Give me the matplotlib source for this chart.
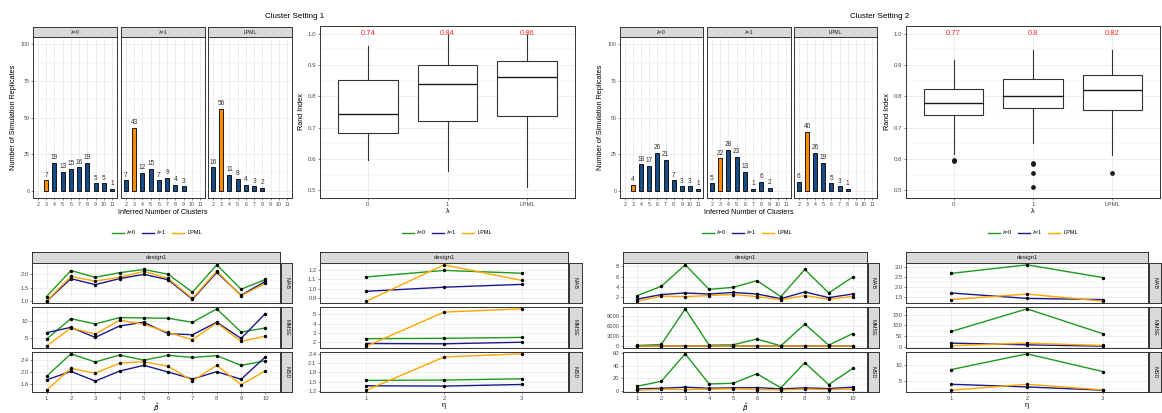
import numpy as np
import matplotlib
matplotlib.use('Agg')
import matplotlib.pyplot as plt
from matplotlib.lines import Line2D

plt.rcParams['font.family'] = ['Liberation Sans', 'DejaVu Sans']
plt.rcParams['mathtext.fontset'] = 'dejavusans'

W, H = 1162, 413

# ---------------- data ----------------
clusters = [2, 3, 4, 5, 6, 7, 8, 9, 10, 11]
true_k = 3
facets = ['λ=0', 'λ=1', 'LPML']

# counts per inferred number of clusters (0 = no bar)
s1_lam0 = [0, 7, 19, 13, 15, 16, 19, 5, 5, 1]
s1_lam1 = [7, 43, 12, 15, 7, 9, 4, 3, 0, 0]
s1_lpml = [16, 56, 11, 8, 4, 3, 2, 0, 0, 0]
s2_lam0 = [0, 4, 18, 17, 26, 21, 7, 3, 3, 1]
s2_lam1 = [5, 22, 28, 23, 13, 1, 6, 2, 0, 0]
s2_lpml = [6, 40, 26, 19, 5, 3, 1, 0, 0, 0]

# rand index box stats: (whislo, q1, med, q3, whishi)
box_labels = ['0', '1', 'LPML']
s1_box = [(0.598, 0.682, 0.743, 0.851, 0.960),
          (0.562, 0.722, 0.840, 0.901, 1.000),
          (0.509, 0.736, 0.862, 0.913, 1.000)]
s1_fliers = [[], [], []]
s1_means = ['0.74', '0.84', '0.86']
s2_box = [(0.617, 0.741, 0.778, 0.823, 0.915),
          (0.651, 0.763, 0.801, 0.855, 0.949),
          (0.613, 0.755, 0.820, 0.868, 0.949)]
s2_fliers = [[0.595, 0.592], [0.588, 0.584, 0.554, 0.509], [0.554]]
s2_means = ['0.77', '0.8', '0.82']

metrics = ['MAB', 'MMSE', 'MSD']
beta_idx = [1, 2, 3, 4, 5, 6, 7, 8, 9, 10]
eta_idx = [1, 2, 3]

# setting 1, beta
s1b_mab_l0 = [1.17, 2.13, 1.88, 2.05, 2.17, 1.99, 1.33, 2.34, 1.44, 1.80]
s1b_mab_l1 = [1.00, 1.83, 1.61, 1.83, 1.99, 1.79, 1.07, 2.06, 1.22, 1.73]
s1b_mab_lp = [1.01, 1.91, 1.74, 1.88, 2.10, 1.84, 1.10, 2.11, 1.20, 1.66]
s1b_mmse_l0 = [4.7, 10.8, 9.2, 11.1, 11.0, 10.9, 9.7, 13.7, 6.8, 8.0]
s1b_mmse_l1 = [6.6, 8.2, 5.2, 8.6, 9.7, 6.3, 6.0, 9.7, 4.9, 12.3]
s1b_mmse_lp = [2.6, 8.0, 6.2, 10.3, 9.1, 6.7, 4.5, 9.5, 4.0, 5.6]
s1b_msd_l0 = [1.87, 2.61, 2.34, 2.57, 2.40, 2.56, 2.49, 2.55, 2.23, 2.38]
s1b_msd_l1 = [1.75, 2.03, 1.71, 2.04, 2.23, 2.01, 1.78, 2.02, 1.77, 2.51]
s1b_msd_lp = [1.41, 2.13, 1.97, 2.30, 2.35, 2.20, 1.72, 2.23, 1.59, 2.05]

# setting 1, eta
s1e_mab_l0 = [1.127, 1.197, 1.167]
s1e_mab_l1 = [0.973, 1.017, 1.047]
s1e_mab_lp = [0.867, 1.257, 1.090]
s1e_mmse_l0 = [2.38, 2.42, 2.52]
s1e_mmse_l1 = [1.86, 1.83, 2.00]
s1e_mmse_lp = [1.58, 5.24, 5.59]
s1e_msd_l0 = [1.55, 1.56, 1.60]
s1e_msd_l1 = [1.38, 1.37, 1.42]
s1e_msd_lp = [1.24, 2.29, 2.39]

# setting 2, beta
s2b_mab_l0 = [2.3, 4.1, 8.3, 3.5, 3.9, 5.2, 2.1, 7.4, 2.8, 5.9]
s2b_mab_l1 = [1.6, 2.5, 2.8, 2.6, 2.9, 2.6, 1.7, 3.0, 1.9, 2.6]
s2b_mab_lp = [1.2, 2.2, 2.1, 2.3, 2.5, 2.1, 1.5, 2.3, 1.6, 2.1]
s2b_mmse_l0 = [200, 500, 11000, 300, 400, 2100, 100, 6500, 300, 3700]
s2b_mmse_l1 = [30, 60, 80, 60, 80, 60, 20, 80, 40, 60]
s2b_mmse_lp = [10, 40, 40, 40, 50, 40, 15, 50, 20, 40]
s2b_msd_l0 = [8.1, 15.7, 58.0, 11.6, 12.6, 27.3, 5.6, 44.4, 10.6, 35.4]
s2b_msd_l1 = [4.0, 5.0, 6.6, 5.0, 5.6, 6.0, 4.0, 5.6, 4.5, 6.6]
s2b_msd_lp = [2.0, 3.5, 3.0, 3.5, 4.0, 3.0, 2.5, 3.5, 3.0, 3.5]

# setting 2, eta
s2e_mab_l0 = [2.68, 3.11, 2.47]
s2e_mab_l1 = [1.69, 1.42, 1.36]
s2e_mab_lp = [1.36, 1.64, 1.28]
s2e_mmse_l0 = [72, 177, 62]
s2e_mmse_l1 = [18, 10, 4]
s2e_mmse_lp = [6, 18, 7]
s2e_msd_l0 = [8.5, 13.3, 7.9]
s2e_msd_l1 = [4.0, 3.2, 2.2]
s2e_msd_lp = [2.2, 4.0, 2.3]

line_colors = ['#1E9A1E', '#1A1A8C', '#FFA500']
bar_blue = '#174B85'
bar_orange = '#FF8C00'
grid_c = '#EBEBEB'
border_c = '#333333'
tick_c = '#4D4D4D'

fig = plt.figure(figsize=(W / 100, H / 100), dpi=100)


def px_axes(x0, y0, x1, y1):
    return fig.add_axes([x0 / W, 1 - y1 / H, (x1 - x0) / W, (y1 - y0) / H])


def style(ax, size):
    for s in ax.spines.values():
        s.set_color(border_c)
        s.set_linewidth(0.7)
    ax.set_axisbelow(True)
    ax.tick_params(length=1.6, width=0.4, color=border_c, labelsize=size,
                   labelcolor=tick_c, pad=1)
    ax.tick_params(which='minor', length=0)


def strip(x0, y0, x1, y1, text, rot=0, size=4):
    ax = px_axes(x0, y0, x1, y1)
    ax.set_facecolor('#D9D9D9')
    ax.set_xticks([])
    ax.set_yticks([])
    for s in ax.spines.values():
        s.set_color(border_c)
        s.set_linewidth(0.7)
    ax.text(0.5, 0.5, text, rotation=rot, fontsize=size, color='#1A1A1A',
            ha='center', va='center', transform=ax.transAxes)


def bar_facets(xs, counts_list, ylab_x):
    pos = np.arange(len(clusters))
    for i, (x0, x1) in enumerate(xs):
        strip(x0, 27, x1, 37, facets[i], size=3.8)
        ax = px_axes(x0, 37, x1, 198)
        style(ax, 3.8)
        counts = counts_list[i]
        keep = [j for j, c in enumerate(counts) if c > 0]
        cols = [bar_orange if clusters[j] == true_k else bar_blue for j in keep]
        ax.bar(pos[keep], [counts[j] for j in keep], width=0.5, color=cols,
               edgecolor='black', linewidth=0.6)
        for j in keep:
            ax.text(pos[j], counts[j] + 1.2, str(counts[j]), ha='center',
                    va='bottom', fontsize=4.7, color='#333333')
        ax.set_xlim(-0.6, len(clusters) - 0.4)
        ax.set_ylim(-5, 105)
        ax.set_xticks(pos)
        ax.set_xticklabels([str(c) for c in clusters])
        ax.set_yticks([0, 25, 50, 75, 100])
        ax.set_yticks([12.5, 37.5, 62.5, 87.5], minor=True)
        ax.grid(True, which='major', color=grid_c, lw=0.6)
        ax.grid(True, which='minor', axis='y', color=grid_c, lw=0.3)
        if i > 0:
            ax.tick_params(axis='y', length=0, labelleft=False)
    mid = (xs[0][0] + xs[-1][1]) / 2
    fig.text(mid / W, 1 - 212 / H, 'Inferred Number of Clusters',
             ha='center', va='center', fontsize=5.2)
    fig.text(ylab_x / W, 1 - 117 / H, 'Number of Simulation Replicates',
             ha='center', va='center', rotation=90, fontsize=5.2)


def box_panel(x0, x1, stats, fliers, means):
    ax = px_axes(x0, 26, x1, 198)
    style(ax, 4.4)
    bx = []
    for (lo, q1, med, q3, hi), fl in zip(stats, fliers):
        bx.append(dict(whislo=lo, q1=q1, med=med, q3=q3, whishi=hi, fliers=fl))
    ax.bxp(bx, positions=[1, 2, 3], widths=0.75, showcaps=False,
           patch_artist=True,
           boxprops=dict(facecolor='white', edgecolor='#333333', linewidth=0.8),
           whiskerprops=dict(color='#333333', linewidth=0.8),
           medianprops=dict(color='#1A1A1A', linewidth=1.0),
           flierprops=dict(marker='o', markerfacecolor='#1A1A1A',
                           markeredgecolor='#1A1A1A', markersize=2.4))
    for k, m in enumerate(means):
        ax.text(k + 1, 1.0, m, color='#FF2A2A', fontsize=5.5, ha='center',
                va='center')
    ax.set_xlim(0.4, 3.6)
    ax.set_ylim(0.475, 1.025)
    ax.set_yticks([0.5, 0.6, 0.7, 0.8, 0.9, 1.0])
    ax.set_yticks([0.55, 0.65, 0.75, 0.85, 0.95], minor=True)
    ax.set_xticks([1, 2, 3])
    ax.set_xticklabels(box_labels)
    ax.grid(True, which='major', color=grid_c, lw=0.6)
    ax.grid(True, which='minor', axis='y', color=grid_c, lw=0.3)
    ax.set_ylabel('Rand Index', fontsize=5.2, labelpad=2)
    ax.set_xlabel('λ', fontsize=5.2, labelpad=1)


def line_panel(x0, x1, sx0, sx1, xvals, rows, ticks, fmts, xlab, leg_x):
    ys = [(263, 303), (307, 348), (352, 392)]
    strip(x0, 252, x1, 263, 'design1', size=4.4)
    for r, (series, tk, fmt) in enumerate(zip(rows, ticks, fmts)):
        y0, y1 = ys[r]
        ax = px_axes(x0, y0, x1, y1)
        style(ax, 4.2)
        for vals, c in zip(series, line_colors):
            ax.plot(xvals, vals, color=c, lw=1.0, zorder=2)
        for vals in series:
            ax.scatter(xvals, vals, s=6, color='black', zorder=3, lw=0)
        allv = np.concatenate([np.asarray(v, float) for v in series])
        lo, hi = allv.min(), allv.max()
        pad = 0.05 * (hi - lo)
        ax.set_xlim(0.4, len(xvals) + 0.6)
        ax.set_yticks(tk)
        ax.set_yticklabels([fmt.format(t) for t in tk])
        step = tk[1] - tk[0]
        minor = [t - step / 2 for t in tk] + [tk[-1] + step / 2]
        ax.set_yticks(minor, minor=True)
        ax.set_ylim(lo - pad, hi + pad)
        ax.set_xticks(xvals)
        ax.grid(True, which='major', color=grid_c, lw=0.6)
        ax.grid(True, which='minor', axis='y', color=grid_c, lw=0.3)
        if r < 2:
            ax.tick_params(axis='x', labelbottom=False, length=0)
        else:
            ax.set_xticklabels([str(v) for v in xvals])
            ax.set_xlabel(xlab, fontsize=5.2, labelpad=1)
        strip(sx0, y0, sx1, y1, metrics[r], rot=-90, size=4)
    handles = [Line2D([], [], color=c, lw=1.0) for c in line_colors]
    fig.legend(handles, facets, loc='center',
               bbox_to_anchor=(leg_x / W, 1 - 233 / H), ncol=3, frameon=False,
               fontsize=4, handlelength=2.2, handletextpad=0.6,
               columnspacing=1.0)


# titles
fig.text(295 / W, 1 - 17 / H, 'Cluster Setting 1', ha='center', va='center',
         fontsize=5.8)
fig.text(880 / W, 1 - 17 / H, 'Cluster Setting 2', ha='center', va='center',
         fontsize=5.8)

# top row
bar_facets([(33, 117), (121, 205), (208, 292)], [s1_lam0, s1_lam1, s1_lpml], 14)
box_panel(320, 575, s1_box, s1_fliers, s1_means)
bar_facets([(620, 703), (707, 791), (794, 877)], [s2_lam0, s2_lam1, s2_lpml], 601)
box_panel(906, 1160, s2_box, s2_fliers, s2_means)

# bottom row
line_panel(32, 280, 281, 292, beta_idx,
           [[s1b_mab_l0, s1b_mab_l1, s1b_mab_lp],
            [s1b_mmse_l0, s1b_mmse_l1, s1b_mmse_lp],
            [s1b_msd_l0, s1b_msd_l1, s1b_msd_lp]],
           [[1.0, 1.5, 2.0], [5, 10], [1.6, 2.0, 2.4]],
           ['{:.1f}', '{:.0f}', '{:.1f}'], r'$\hat{\beta}$', 157)
line_panel(320, 568, 569, 582, eta_idx,
           [[s1e_mab_l0, s1e_mab_l1, s1e_mab_lp],
            [s1e_mmse_l0, s1e_mmse_l1, s1e_mmse_lp],
            [s1e_msd_l0, s1e_msd_l1, s1e_msd_lp]],
           [[0.9, 1.0, 1.1, 1.2], [2, 3, 4, 5], [1.2, 1.5, 1.8, 2.1, 2.4]],
           ['{:.1f}', '{:.0f}', '{:.1f}'], 'η', 447)
line_panel(623, 867, 868, 879, beta_idx,
           [[s2b_mab_l0, s2b_mab_l1, s2b_mab_lp],
            [s2b_mmse_l0, s2b_mmse_l1, s2b_mmse_lp],
            [s2b_msd_l0, s2b_msd_l1, s2b_msd_lp]],
           [[2, 4, 6, 8], [0, 3000, 6000, 9000], [0, 20, 40, 60]],
           ['{:.0f}', '{:.0f}', '{:.0f}'], r'$\hat{\beta}$', 747)
line_panel(906, 1148, 1149, 1161, eta_idx,
           [[s2e_mab_l0, s2e_mab_l1, s2e_mab_lp],
            [s2e_mmse_l0, s2e_mmse_l1, s2e_mmse_lp],
            [s2e_msd_l0, s2e_msd_l1, s2e_msd_lp]],
           [[1.5, 2.0, 2.5, 3.0], [0, 50, 100, 150], [5, 10]],
           ['{:.1f}', '{:.0f}', '{:.0f}'], 'η', 1033)

fig.savefig('out.png', dpi=100)
